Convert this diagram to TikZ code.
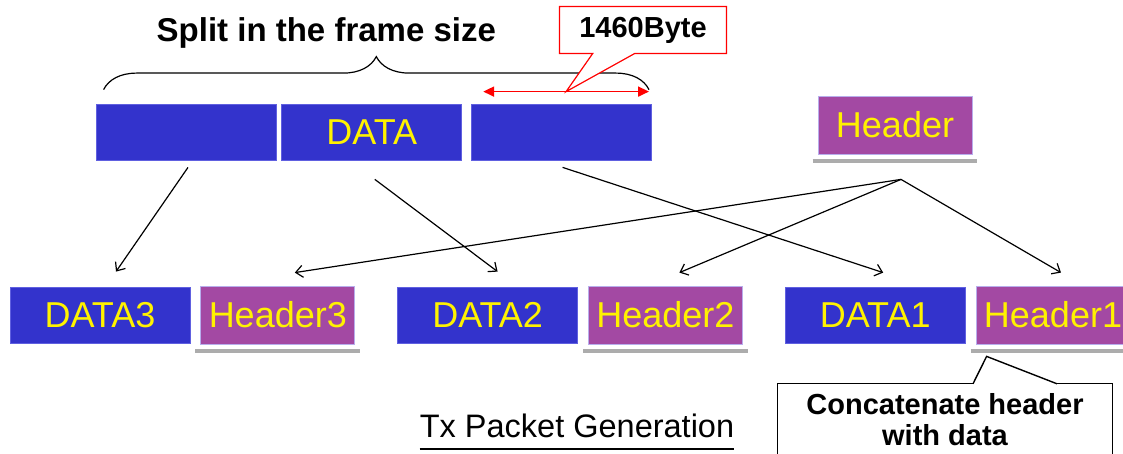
\documentclass[tikz,border=0pt]{standalone}
\usepackage{fontspec}
\setmainfont{Liberation Sans}
\definecolor{datablue}{RGB}{51,51,204}
\definecolor{datablueedge}{RGB}{96,96,224}
\definecolor{hdrpurple}{RGB}{163,73,163}
\definecolor{hdredge}{RGB}{184,174,236}
\definecolor{shadowgray}{RGB}{172,172,172}
\usetikzlibrary{calc}
\usetikzlibrary{positioning}
\usetikzlibrary{arrows.meta}
\usetikzlibrary{shapes.callouts}
\usetikzlibrary{decorations.pathreplacing}
\tikzset{
  datablk/.style={fill=datablue, draw=datablueedge, line width=0.8pt, minimum width=180pt,
    minimum height=56pt, inner sep=0pt, text=yellow, font=\fontsize{36}{43}\selectfont},
  hdrblk/.style={fill=hdrpurple, draw=hdredge, line width=0.8pt, minimum width=154pt,
    minimum height=58pt, inner sep=0pt, text=yellow, font=\fontsize{36}{43}\selectfont},
  hdrshadow/.style={draw=shadowgray, line width=4pt},
  link/.style={-{Straight Barb[length=7pt,width=12pt]}, line width=1.2pt},
  notebox/.style={draw, fill=white, line width=1.4pt, minimum width=335pt, minimum height=72pt,
    inner sep=0pt, align=center, font=\bfseries\fontsize{29}{31}\selectfont},
}

\begin{document}
\begin{tikzpicture}[x=1pt, y=-1pt]
  \useasboundingbox (0,0) rectangle (1123,454);

  % data to be split
  \node [datablk] (blk1) at (186,132) {};
  \node [datablk, right=5pt of blk1] (blk2) {DATA};
  \node [datablk, right=9pt of blk2] (blk3) {};
  \node [hdrblk] (hdr) at (895,125) {Header};

  % packets
  \node [datablk] (data3) at (100,315) {DATA3};
  \node [hdrblk, right=10pt of data3] (hdr3) {Header3};
  \node [datablk, right=42pt of hdr3] (data2) {DATA2};
  \node [hdrblk, right=10pt of data2] (hdr2) {Header2};
  \node [datablk, right=42pt of hdr2] (data1) {DATA1};
  \node [hdrblk, right=10pt of data1] (hdr1) {Header1};

  \foreach \h in {hdr, hdr1, hdr2, hdr3} {
    \draw [hdrshadow] ([xshift=-5pt, yshift=-7pt]\h.south west) -- ([xshift=5pt, yshift=-7pt]\h.south east);
  }

  % split in the frame size
  \draw [decorate, decoration={brace, amplitude=33pt}, line width=1.2pt]
    ([xshift=8pt, yshift=14pt]blk1.north west) -- node [midway, xshift=-50pt, yshift=48pt, anchor=base,
    font=\bfseries\fontsize{33}{40}\selectfont] (splitlbl) {Split in the frame size}
    ([xshift=-3pt, yshift=14pt]blk3.north east);

  % frame size
  \coordinate (szl) at ([xshift=12pt, yshift=12pt]blk3.north west);
  \coordinate (szr) at ([xshift=-3pt, yshift=12pt]blk3.north east);
  \coordinate (sztip) at ($(szl)!0.5!(szr)$);
  \node [rectangle callout, draw=red, fill=white, line width=1.2pt, minimum width=167pt,
    minimum height=47pt, inner sep=0pt, callout absolute pointer={(sztip)},
    callout pointer width=42pt, font=\bfseries\fontsize{29}{34}\selectfont] (szbox) at (643,30) {1460Byte};
  \draw [red, line width=1.8pt, {Triangle[length=11pt,width=10pt]}-{Triangle[length=11pt,width=10pt]}] (szl) -- (szr);

  % data parts go to the packets
  \draw [link] ([xshift=2pt, yshift=-7pt]blk1.south) -- ([xshift=16pt, yshift=15pt]data3.north);
  \draw [link] ([xshift=3pt, yshift=-19pt]blk2.south) -- ([xshift=10pt, yshift=15pt]data2.north);
  \draw [link] ([xshift=1pt, yshift=-7pt]blk3.south) -- ([xshift=8pt, yshift=14pt]data1.north);

  % header copies
  \coordinate (hsrc) at ([xshift=6pt, yshift=-25pt]hdr.south);
  \foreach \h/\dx in {hdr3/17, hdr2/14, hdr1/8} {
    \draw [link] (hsrc) -- ([xshift=\dx pt, yshift=13pt]\h.north);
  }

  % concatenation note
  \node [notebox, anchor=north] (concat) at (945,383) {Concatenate header\\with data};
  \coordinate (ctip) at ([xshift=11pt, yshift=-12pt]hdr1.south west);
  \draw [fill=white, line width=1.4pt] ([xshift=28pt, yshift=-0.8pt]concat.north) -- (ctip)
    -- ([xshift=112pt, yshift=-0.8pt]concat.north);

  % caption
  \node [font=\fontsize{32.5}{38}\selectfont, anchor=base, inner xsep=0pt] (caption) at (577,437) {Tx Packet Generation};
  \draw [line width=1.6pt] ([yshift=-12pt]caption.base west) -- ([yshift=-12pt]caption.base east);
\end{tikzpicture}
\end{document}
